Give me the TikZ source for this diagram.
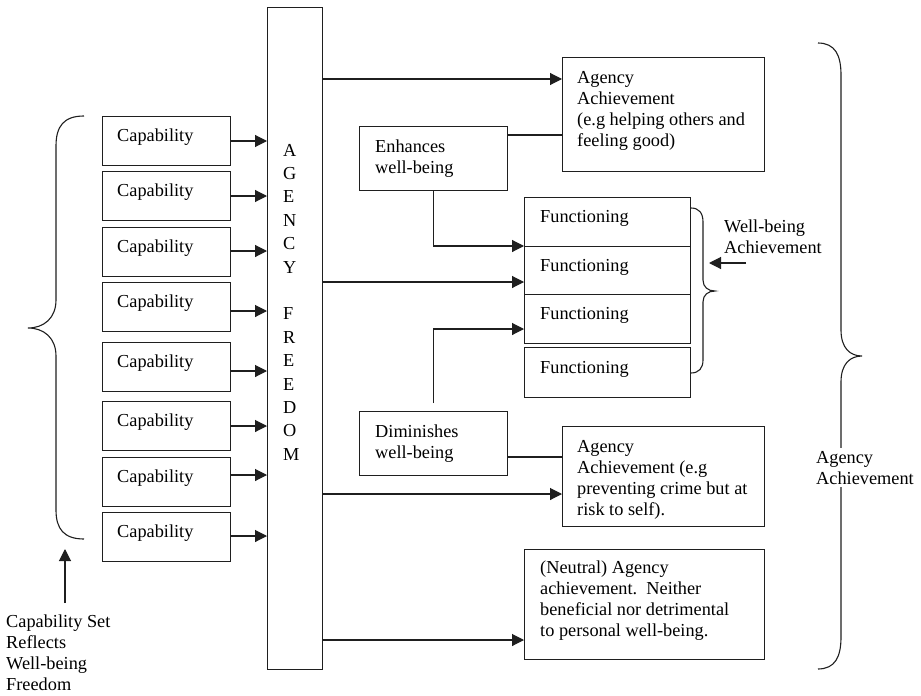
\documentclass[tikz,border=0pt]{standalone}
\usepackage{fontspec}
\setmainfont{Liberation Serif}
\usetikzlibrary{arrows.meta,calc}
\newcommand\stk[2][21pt]{\vtop{\baselineskip=#1\lineskiplimit=-100pt\halign{##\hfil\cr #2\crcr}}}
\begin{document}
\begin{tikzpicture}[x=1pt,y=-1pt,
  ln/.style={line width=1.1pt, draw=black!88},
  arr/.style={ln, -{Triangle[length=12pt,width=12pt]}},
  box/.style={draw=black!88, line width=1.1pt, rectangle, inner sep=0pt, anchor=north west},
  txt/.style={inner sep=0pt, anchor=base west, font=\fontsize{18.3pt}{21pt}\selectfont},
]
\useasboundingbox (0,0) rectangle (921,696);

% central column
\node[box, minimum width=55pt, minimum height=662pt] (col) at (267,7) {};
\node[txt] (colt) at (283,156) {\stk[23.4pt]{A\cr G\cr E\cr N\cr C\cr Y\cr \cr F\cr R\cr E\cr E\cr D\cr O\cr M}};

% capability boxes
\node[box, minimum width=128pt, minimum height=49pt] (c1) at (102,116) {};
\node[box, minimum width=128pt, minimum height=49pt] (c2) at (102,171) {};
\node[box, minimum width=128pt, minimum height=49pt] (c3) at (102,227) {};
\node[box, minimum width=128pt, minimum height=49pt] (c4) at (102,282) {};
\node[box, minimum width=128pt, minimum height=49pt] (c5) at (102,342) {};
\node[box, minimum width=128pt, minimum height=49pt] (c6) at (102,401) {};
\node[box, minimum width=128pt, minimum height=49pt] (c7) at (102,457) {};
\node[box, minimum width=128pt, minimum height=49pt] (c8) at (102,512) {};
\node[txt] (c1t) at (117,141) {Capability};
\node[txt] (c2t) at (117,196) {Capability};
\node[txt] (c3t) at (117,252) {Capability};
\node[txt] (c4t) at (117,307) {Capability};
\node[txt] (c5t) at (117,367) {Capability};
\node[txt] (c6t) at (117,426) {Capability};
\node[txt] (c7t) at (117,482) {Capability};
\node[txt] (c8t) at (117,537) {Capability};

\draw[arr] (c1.east |- 0,141) -- (col.west |- 0,141);
\draw[arr] (c2.east |- 0,196) -- (col.west |- 0,196);
\draw[arr] (c3.east |- 0,251) -- (col.west |- 0,251);
\draw[arr] (c4.east |- 0,311) -- (col.west |- 0,311);
\draw[arr] (c5.east |- 0,371) -- (col.west |- 0,371);
\draw[arr] (c6.east |- 0,426) -- (col.west |- 0,426);
\draw[arr] (c7.east |- 0,475) -- (col.west |- 0,475);
\draw[arr] (c8.east |- 0,536) -- (col.west |- 0,536);

% left brace and label
\draw[ln] (84,116) .. controls (64,116) and (56,126) .. (56,146) -- (56,300)
  .. controls (56,318) and (44,328) .. (28,328)
  .. controls (44,328) and (56,338) .. (56,356) -- (56,510)
  .. controls (56,529) and (64,539) .. (84,539);
\node[txt] (capset) at (6,627) {\stk{Capability Set\cr Reflects\cr Well-being\cr Freedom}};
\coordinate (csa) at (65,603);
\coordinate (cse) at (65,549);
\draw[arr] (csa) -- (cse);

% right side boxes
\node[box, minimum width=202pt, minimum height=114pt] (aa1) at (562,57) {};
\node[txt] (aa1t) at (577,83) {\stk{Agency\cr Achievement\cr (e.g helping others and\cr feeling good)}};
\node[box, minimum width=148pt, minimum height=64pt] (enh) at (359,126) {};
\node[txt] (enht) at (375,152) {\stk{Enhances\cr well-being}};

\node[box, minimum width=166pt, minimum height=49pt] (f1) at (524,197) {};
\node[box, minimum width=166pt, minimum height=48pt] (f2) at (524,246) {};
\node[box, minimum width=166pt, minimum height=49pt] (f3) at (524,294) {};
\node[box, minimum width=166pt, minimum height=50pt] (f4) at (524,347) {};
\node[txt] (f1t) at (540,222) {Functioning};
\node[txt] (f2t) at (540,271) {Functioning};
\node[txt] (f3t) at (540,319) {Functioning};
\node[txt] (f4t) at (540,373) {Functioning};

\node[box, minimum width=148pt, minimum height=64pt] (dim) at (359,411) {};
\node[txt] (dimt) at (375,437) {\stk{Diminishes\cr well-being}};
\node[box, minimum width=202pt, minimum height=100pt] (aa2) at (562,426) {};
\node[txt] (aa2t) at (577,452) {\stk{Agency\cr Achievement (e.g\cr preventing crime but at\cr risk to self).}};
\node[box, minimum width=240pt, minimum height=110pt] (neu) at (524,549) {};
\node[txt] (neut) at (540,573) {\stk{(Neutral) Agency\cr achievement.\ \ Neither\cr beneficial nor detrimental\cr to personal well-being.}};

% connectors
\draw[arr] (col.east |- 0,79) -- (aa1.west |- 0,79);
\draw[ln] (enh.east |- 0,135) -- (aa1.west |- 0,135);
\draw[arr] (enh.south) |- (f2.north west);
\draw[arr] (col.east |- 0,282) -- (f2.west |- 0,282);
\draw[arr] ([yshift=8pt]dim.north) |- (f3.west |- 0,329);
\draw[ln] (dim.east |- 0,457) -- (aa2.west |- 0,457);
\draw[arr] (col.east |- 0,494) -- (aa2.west |- 0,494);
\draw[arr] (col.east |- 0,640) -- (neu.west |- 0,640);

% well-being brace
\draw[ln] (691,208) .. controls (699,208) and (703,213) .. (703,222) -- (703,280)
  .. controls (703,287) and (708,291) .. (715,291)
  .. controls (708,291) and (703,295) .. (703,302) -- (703,360)
  .. controls (703,368) and (699,373) .. (691,373);
\node[txt] (wb) at (724,232) {\stk{Well-being\cr Achievement}};
\coordinate (wbs) at (746,263);
\coordinate (wbe) at (709,263);
\draw[arr] (wbs) -- (wbe);

% big right brace
\draw[ln] (818,43) .. controls (835,43) and (841,55) .. (841,75) -- (841,330)
  .. controls (841,348) and (850,356) .. (862,356)
  .. controls (850,356) and (841,364) .. (841,382) -- (841,637)
  .. controls (841,657) and (835,669) .. (818,669);
\node[txt, fill=white, inner ysep=3pt] (aar) at (816,463) {\stk{Agency\cr Achievement}};
\end{tikzpicture}
\end{document}
